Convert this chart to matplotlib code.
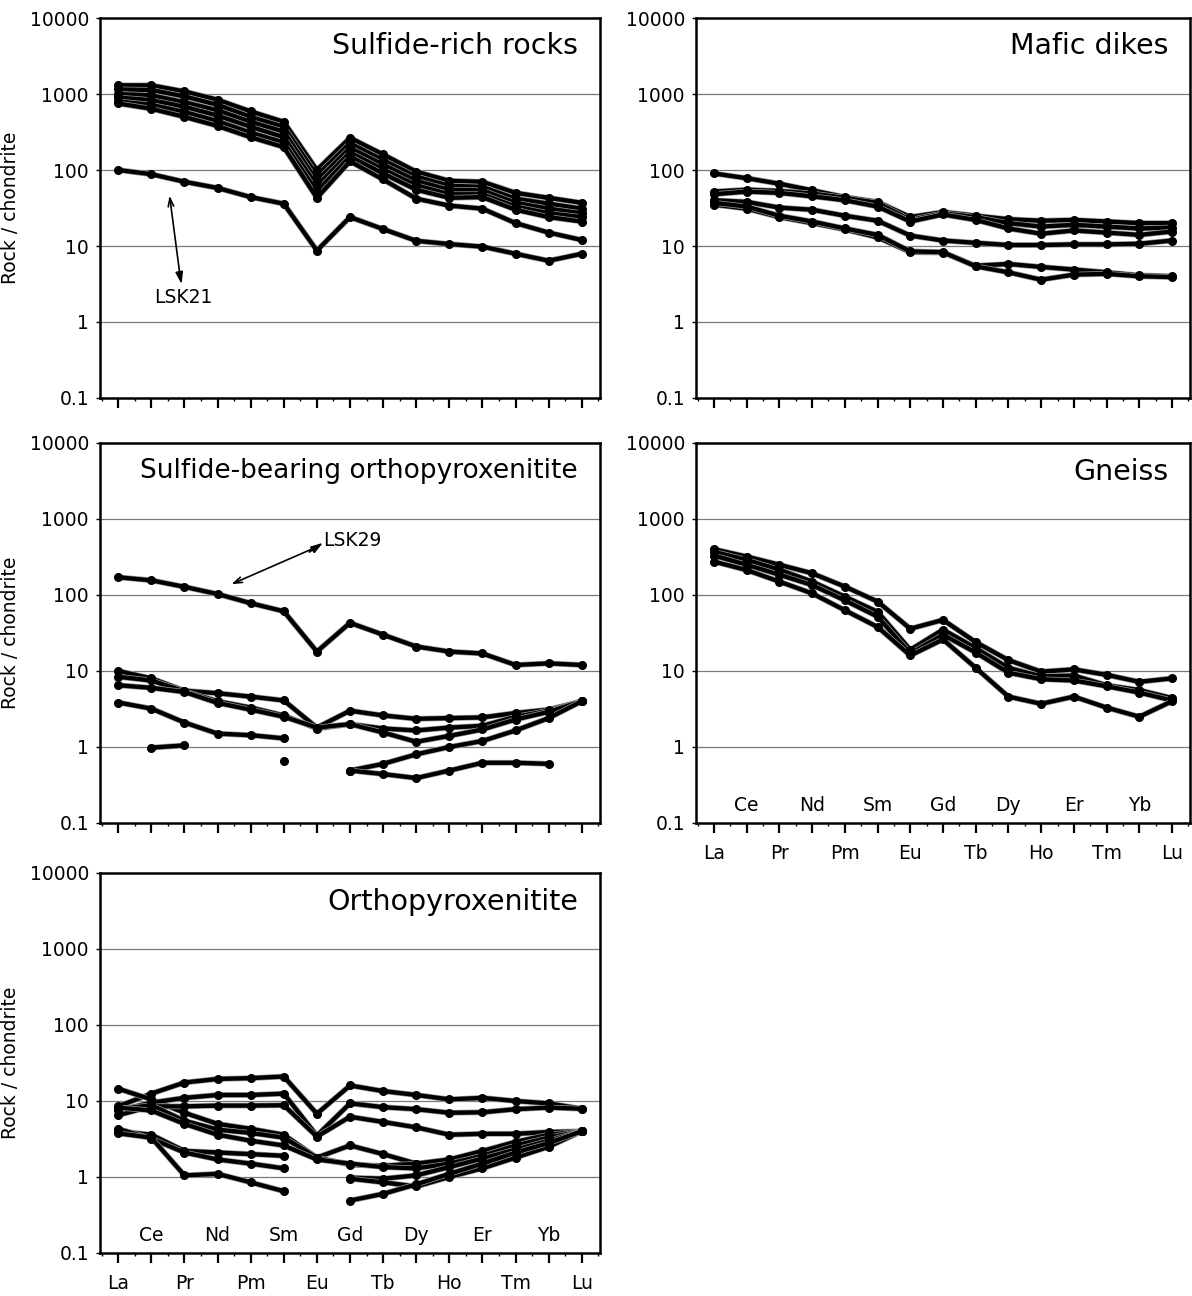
import numpy as np
import matplotlib
matplotlib.use("Agg")
import matplotlib.pyplot as plt
import matplotlib.patheffects as pe
from matplotlib.ticker import NullLocator
from matplotlib.transforms import blended_transform_factory

nan = np.nan

elements = ["La", "Ce", "Pr", "Nd", "Pm", "Sm", "Eu", "Gd",
            "Tb", "Dy", "Ho", "Er", "Tm", "Yb", "Lu"]
ytick_values = [0.1, 1, 10, 100, 1000, 10000]
ytick_labels = ["0.1", "1", "10", "100", "1000", "10000"]

# Chondrite-normalised REE patterns, one list per sample
sulfide_rich = [
    [1300, 1300, 1080, 840, 590, 430, 100, 265, 160, 95, 72, 70, 50, 43, 37],
    [1150, 1130, 930, 720, 500, 370, 85, 225, 135, 82, 62, 60, 42, 36, 31],
    [1000, 960, 780, 610, 430, 320, 72, 195, 118, 72, 55, 54, 37, 31, 27],
    [900, 830, 680, 520, 370, 270, 62, 170, 102, 63, 48, 48, 33, 27, 24],
    [800, 720, 580, 440, 310, 230, 52, 150, 90, 55, 43, 44, 30, 24, 21],
    [750, 640, 500, 380, 270, 200, 43, 130, 75, 42, 34, 31, 20, 15, 12],
]
lsk21 = [100, 88, 70, 58, 44, 36, 8.7, 24, 16.7, 11.7, 10.6, 9.8, 7.9, 6.4, 7.9]

mafic_dikes = [
    [90, 78, 66, 54, 44, 38, 24, 28, 25, 22.5, 21.5, 22, 21, 20, 20],
    [52, 55, 53, 49, 43, 37, 22, 27, 24, 20, 18, 19, 18, 17, 17.5],
    [48, 52, 50, 45, 40, 33, 21, 26, 22, 17, 14.5, 16, 15, 14, 15.5],
    [40, 38, 32, 30, 25, 21.5, 13.7, 11.8, 11, 10.3, 10.3, 10.5, 10.5, 10.7, 11.8],
    [35, 31, 24, 20, 16.5, 13, 8.3, 8.2, 5.5, 5.8, 5.3, 4.9, 4.5, 4.1, 4.0],
    [37, 33, 25, 21, 17, 14, 8.5, 8.3, 5.4, 4.5, 3.6, 4.2, 4.3, 4.0, 3.9],
]

lsk29 = [171, 156, 128, 103, 78, 61, 18, 43, 30, 21, 18, 17, 12, 12.6, 12]
sulfide_bearing = [
    [10, 8, 5.5, 5.1, 4.6, 4.1, 1.8, 3.0, 2.6, 2.35, 2.4, 2.45, 2.8, 3.1, 4.0],
    [8.4, 7.5, 5.4, 4.0, 3.3, 2.6, 1.75, 2.0, 1.75, 1.65, 1.8, 1.9, 2.5, 3.0, 4.0],
    [6.5, 6.0, 5.3, 3.8, 3.1, 2.5, 1.8, 2.0, 1.55, 1.17, 1.4, 1.7, 2.3, 2.9, 4.0],
    [3.85, 3.2, 2.1, 1.5, 1.43, 1.3, nan, 0.49, 0.6, 0.8, 1.0, 1.2, 1.65, 2.4, 4.0],
    [nan, 0.98, 1.05, nan, nan, 0.65, nan, 0.49, 0.44, 0.39, 0.49, 0.62, 0.62, 0.6, nan],
]

gneiss = [
    [400, 320, 250, 193, 129, 82, 36, 47, 24, 13.9, 9.8, 10.5, 8.9, 7.2, 8.0],
    [370, 290, 215, 150, 95, 60, 19, 35, 20, 11, 8.5, 8.7, 6.5, 5.6, 4.4],
    [330, 250, 185, 135, 85, 52, 17, 30, 17.5, 9.5, 7.8, 7.5, 6.3, 5.2, 4.1],
    [275, 213, 150, 105, 63, 38, 16, 26, 11, 4.6, 3.7, 4.6, 3.3, 2.5, 4.0],
]

orthopyroxenitite = [
    [8.5, 12.5, 17.5, 19.5, 20, 21, 6.8, 16, 13.5, 12, 10.5, 11, 10, 9.3, 7.9],
    [14.5, 10.5, 7, 5.0, 4.3, 3.6, 1.8, 2.6, 2.0, 1.5, 1.55, 1.9, 2.4, 3.2, 4.0],
    [7.5, 9.5, 11, 12, 12, 12.5, 3.5, 9.3, 8.3, 7.8, 7.0, 7.1, 7.8, 8.2, 7.9],
    [6.5, 8.5, 8.5, 8.7, 8.7, 8.8, 3.4, 6.2, 5.3, 4.5, 3.6, 3.7, 3.7, 3.9, 4.0],
    [7.8, 8.8, 5.5, 4.2, 3.8, 3.3, 1.8, 1.45, 1.4, 1.5, 1.7, 2.2, 2.9, 3.6, 4.0],
    [8.2, 7.5, 5.0, 3.6, 3.0, 2.6, 1.7, 1.5, 1.35, 1.3, 1.5, 1.9, 2.6, 3.3, 4.0],
    [4.0, 3.6, 2.2, 2.1, 2.0, 1.9, nan, 0.98, 0.95, 1.05, 1.35, 1.75, 2.3, 3.0, 4.0],
    [4.3, 3.2, 2.1, 1.7, 1.5, 1.3, nan, 0.95, 0.85, 0.75, 1.0, 1.3, 1.8, 2.5, 4.0],
    [3.75, 3.3, 1.05, 1.1, 0.85, 0.65, nan, 0.49, 0.6, 0.8, 1.1, 1.5, 2.1, 2.8, 4.0],
]

plt.rcParams["font.family"] = ["DejaVu Sans"]

W, H = 1192, 1296
fig = plt.figure(figsize=(W / 100, H / 100), dpi=100)


def make_axes(left_px, top_px, width_px=500, height_px=380):
    return fig.add_axes([left_px / W, 1 - (top_px + height_px) / H,
                         width_px / W, height_px / H])


def style_axes(ax, title, ylabel=False, xlabels=False, title_size=20.5):
    ax.set_yscale("log")
    ax.set_ylim(0.1, 10000)
    ax.set_xlim(-0.55, len(elements) - 1 + 0.55)
    ax.set_yticks(ytick_values)
    ax.set_yticklabels(ytick_labels)
    ax.yaxis.set_minor_locator(NullLocator())
    for v in [1, 10, 100, 1000]:
        ax.axhline(v, color="#7a7a7a", lw=0.9, zorder=0)
    ax.set_xticks(range(len(elements)))
    ax.set_xticks(np.arange(-0.5, len(elements), 1.0), minor=True)
    ax.tick_params(axis="x", which="major", direction="out", length=7,
                   width=1.6, labelsize=13.5, pad=8)
    ax.tick_params(axis="x", which="minor", direction="out", length=2.5,
                   width=1.0)
    ax.tick_params(axis="y", which="major", direction="out", length=3,
                   width=1.0, labelsize=13.5, pad=5)
    for sp in ax.spines.values():
        sp.set_linewidth(1.8)
        sp.set_color("black")
    if xlabels:
        ax.set_xticklabels([e if i % 2 == 0 else "" for i, e in enumerate(elements)])
        trans = blended_transform_factory(ax.transData, ax.transAxes)
        for i, e in enumerate(elements):
            if i % 2 == 1:
                ax.text(i, 0.045, e, transform=trans, ha="center",
                        va="center", fontsize=13.5)
    else:
        ax.set_xticklabels([])
    if ylabel:
        ax.set_ylabel("Rock / chondrite", fontsize=13.5)
        ax.yaxis.set_label_coords(-0.16, 0.5)
    ax.text(0.956, 0.925, title, transform=ax.transAxes, ha="right",
            va="center", fontsize=title_size)


def draw(ax, series_list):
    x = np.arange(len(elements))
    for values in series_list:
        y = np.array(values, dtype=float)
        ax.plot(x, y, color="black", lw=3.1,
                solid_capstyle="round", solid_joinstyle="round", zorder=3,
                path_effects=[pe.Stroke(linewidth=4.1, foreground="#9a9a9a"),
                              pe.Normal()])
        ax.plot(x, y, linestyle="none", marker="o", ms=5.5, mfc="black",
                mec="black", zorder=4)


# Sulfide-rich rocks
ax1 = make_axes(100, 18)
style_axes(ax1, "Sulfide-rich rocks", ylabel=True)
draw(ax1, sulfide_rich + [lsk21])
ax1.annotate("", xy=(1.54, 50), xytext=(1.89, 3.4),
             arrowprops=dict(arrowstyle="->,head_length=0.6,head_width=0.2",
                             color="black", lw=1.2))
ax1.annotate("", xy=(1.93, 2.9), xytext=(1.84, 4.6),
             arrowprops=dict(arrowstyle="-|>,head_length=0.7,head_width=0.22",
                             color="black", lw=1.2))
ax1.text(1.96, 2.07, "LSK21", ha="center", va="center", fontsize=13.5)

# Mafic dikes
ax2 = make_axes(696, 18, width_px=494)
style_axes(ax2, "Mafic dikes")
draw(ax2, mafic_dikes)

# Sulfide-bearing orthopyroxenitite
ax3 = make_axes(100, 443)
style_axes(ax3, "Sulfide-bearing orthopyroxenitite", ylabel=True, title_size=19)
draw(ax3, [lsk29] + sulfide_bearing)
ax3.annotate("", xy=(3.34, 134), xytext=(6.0, 430),
             arrowprops=dict(arrowstyle="->,head_length=0.6,head_width=0.2",
                             color="black", lw=1.2))
ax3.annotate("", xy=(6.25, 510), xytext=(5.7, 350),
             arrowprops=dict(arrowstyle="-|>,head_length=0.7,head_width=0.22",
                             color="black", lw=1.2))
ax3.text(6.19, 514, "LSK29", ha="left", va="center", fontsize=13.5)

# Gneiss
ax4 = make_axes(696, 443, width_px=494)
style_axes(ax4, "Gneiss", xlabels=True)
draw(ax4, gneiss)

# Orthopyroxenitite
ax5 = make_axes(100, 873)
style_axes(ax5, "Orthopyroxenitite", ylabel=True, xlabels=True)
draw(ax5, orthopyroxenitite)

fig.savefig("out.png", dpi=100)
